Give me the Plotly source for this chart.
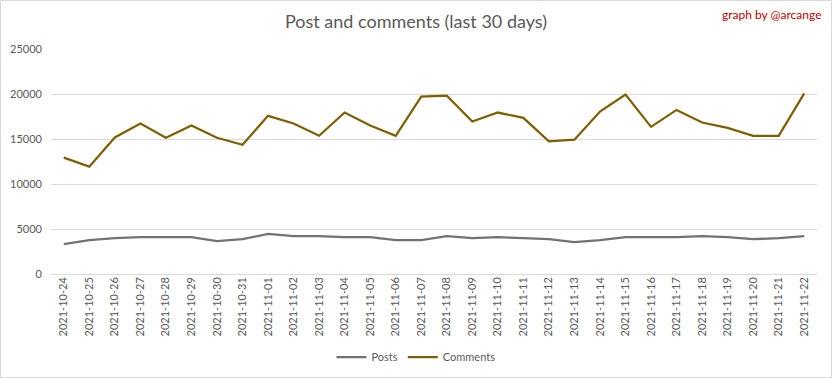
import plotly.graph_objects as go

dates = ["2021-10-24", "2021-10-25", "2021-10-26", "2021-10-27", "2021-10-28", "2021-10-29",
         "2021-10-30", "2021-10-31", "2021-11-01", "2021-11-02", "2021-11-03", "2021-11-04",
         "2021-11-05", "2021-11-06", "2021-11-07", "2021-11-08", "2021-11-09", "2021-11-10",
         "2021-11-11", "2021-11-12", "2021-11-13", "2021-11-14", "2021-11-15", "2021-11-16",
         "2021-11-17", "2021-11-18", "2021-11-19", "2021-11-20", "2021-11-21", "2021-11-22"]

posts = [3310, 3760, 3980, 4090, 4090, 4090, 3650, 3870, 4460, 4200, 4200, 4090,
         4090, 3760, 3760, 4200, 3980, 4090, 3980, 3870, 3540, 3760, 4090, 4090,
         4090, 4200, 4090, 3870, 3980, 4200]

comments = [12930, 11930, 15170, 16720, 15140, 16500, 15140, 14360, 17570, 16720, 15360, 17940,
            16500, 15360, 19700, 19820, 16940, 17940, 17350, 14730, 14920, 18050, 19930, 16350,
            18230, 16830, 16240, 15360, 15360, 20070]

y_ticks = [0, 5000, 10000, 15000, 20000, 25000]

FONT = "Lato"
W, H = 832, 378
ML, MR, MT, MB = 51, 15, 49, 104
PW, PH = W - ML - MR, H - MT - MB

fig = go.Figure()
fig.add_trace(go.Scatter(x=dates, y=posts, name="Posts", mode="lines",
                         line=dict(color="#767171", width=2.25)))
fig.add_trace(go.Scatter(x=dates, y=comments, name="Comments", mode="lines",
                         line=dict(color="#7F6000", width=2.25)))

fig.update_layout(
    width=W, height=H,
    margin=dict(l=ML, r=MR, t=MT, b=MB, pad=0, autoexpand=False),
    paper_bgcolor="white", plot_bgcolor="white",
    font=dict(family=FONT, color="#595959", size=11),
    title=dict(text="Post and comments (last 30 days)", x=0.5, xanchor="center",
               y=1 - 22 / H, yanchor="middle",
               font=dict(family=FONT, size=18, color="#595959")),
    showlegend=True,
    legend=dict(orientation="h", x=0.5, xanchor="center", xref="container",
                y=1 - 357 / H, yanchor="middle", yref="container",
                font=dict(family=FONT, size=11, color="#595959"),
                itemwidth=30, tracegroupgap=0, bgcolor="rgba(0,0,0,0)"),
    xaxis=dict(type="category", range=[-0.5, len(dates) - 0.5], tickangle=-90,
               showgrid=False, showline=False, zeroline=False, automargin=False,
               ticks="", tickfont=dict(family=FONT, size=11, color="#595959")),
    yaxis=dict(range=[0, 25000], tickvals=y_ticks, ticktext=[str(v) for v in y_ticks],
               showgrid=True, gridcolor="#D9D9D9", automargin=False,
               gridwidth=1, zeroline=True, zerolinecolor="#D9D9D9", zerolinewidth=1,
               showline=False, ticks="", ticklabelstandoff=8,
               tickfont=dict(family=FONT, size=11, color="#595959")),
    annotations=[dict(text="graph by @arcange", xref="paper", yref="paper",
                      x=(824 - ML) / PW, y=(274 - 15) / PH, xanchor="right", yanchor="middle",
                      showarrow=False, font=dict(family=FONT, size=12, color="#C00000"))],
    shapes=[dict(type="rect", xref="paper", yref="paper",
                 x0=(0.5 - ML) / PW, x1=(831.5 - ML) / PW,
                 y0=(274 - 377.5) / PH, y1=(274 - 0.5) / PH,
                 line=dict(color="#D9D9D9", width=1), fillcolor="rgba(0,0,0,0)", layer="below")],
)

fig.write_html("out.html", config={"displayModeBar": False},
               post_script="document.body.style.margin='0';document.body.style.overflow='hidden';")
